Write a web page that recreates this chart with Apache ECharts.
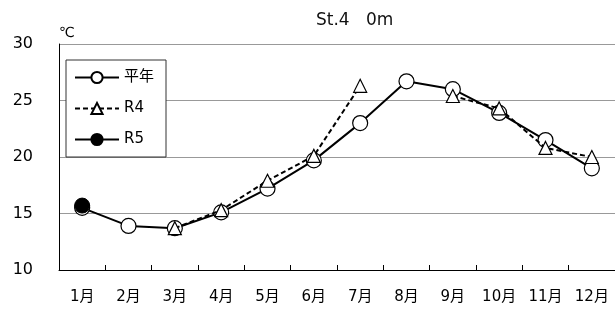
<!DOCTYPE html>
<html>
<head>
<meta charset="utf-8">
<script src="https://cdn.jsdelivr.net/npm/echarts@6/dist/echarts.min.js"></script>
<style>
html,body{margin:0;padding:0;background:#fff;}
#chart{width:615px;height:309px;}
</style>
</head>
<body>
<div id="chart"></div>
<script>
// 月
var months = ['1月','2月','3月','4月','5月','6月','7月','8月','9月','10月','11月','12月'];
// 平年値
var heinen = [15.5, 13.9, 13.7, 15.1, 17.2, 19.7, 23.0, 26.7, 26.0, 23.9, 21.5, 19.0];
// R4
var r4 = [null, null, 13.7, 15.3, 17.9, 20.1, 26.3, null, 25.4, 24.3, 20.8, 20.0];
// R5
var r5 = [15.7, null, null, null, null, null, null, null, null, null, null, null];

var font = '"DejaVu Sans", "Noto Sans CJK JP", sans-serif';
var myChart = echarts.init(document.getElementById('chart'));
var option = {
	animation: false,
	textStyle: {fontFamily: font, color: '#000'},
	graphic: [{
		type: 'text', left: 316, top: 12,
		style: {text: 'St.4   0m', fontSize: 17, fill: '#111', fontFamily: font}
	}],
	legend: {
		orient: 'vertical',
		left: 66, top: 60,
		padding: [10, 12, 10, 8],
		itemGap: 16,
		itemWidth: 44, itemHeight: 14,
		borderColor: '#333', borderWidth: 1,
		backgroundColor: '#fff',
		textStyle: {fontSize: 15, color: '#000'},
		data: ['平年', 'R4', 'R5']
	},
	grid: {left: 59, right: -2, top: 44, bottom: 39},
	xAxis: {
		type: 'category',
		data: months,
		boundaryGap: true,
		axisLine: {lineStyle: {color: '#000', width: 1}},
		axisTick: {show: true, length: 5, inside: true, lineStyle: {color: '#000'}},
		axisLabel: {fontSize: 15, color: '#000', margin: 20}
	},
	yAxis: {
		type: 'value',
		min: 10, max: 30, interval: 5,
		name: '℃',
		nameLocation: 'end',
		nameGap: 4,
		nameTextStyle: {fontSize: 14, color: '#000', align: 'left', padding: [0, 0, 0, 0]},
		axisLine: {show: true, lineStyle: {color: '#000'}},
		axisTick: {show: false},
		axisLabel: {fontSize: 16, color: '#000', margin: 26},
		splitLine: {lineStyle: {color: '#999', width: 1}}
	},
	series: [
		{
			name: '平年', type: 'line', data: heinen,
			symbol: 'circle', symbolSize: 15,
			lineStyle: {color: '#000', width: 2},
			itemStyle: {color: '#fff', borderColor: '#000', borderWidth: 1.2},
			z: 3
		},
		{
			name: 'R4', type: 'line', data: r4,
			symbol: 'triangle', symbolSize: 13,
			connectNulls: false,
			lineStyle: {color: '#000', width: 2, type: [5, 3]},
			itemStyle: {color: '#fff', borderColor: '#000', borderWidth: 1.2},
			z: 4
		},
		{
			name: 'R5', type: 'line', data: r5,
			symbol: 'circle', symbolSize: 15,
			lineStyle: {color: '#000', width: 2},
			itemStyle: {color: '#000', borderColor: '#000', borderWidth: 1},
			z: 5
		}
	]
};
myChart.setOption(option);
</script>
</body>
</html>
